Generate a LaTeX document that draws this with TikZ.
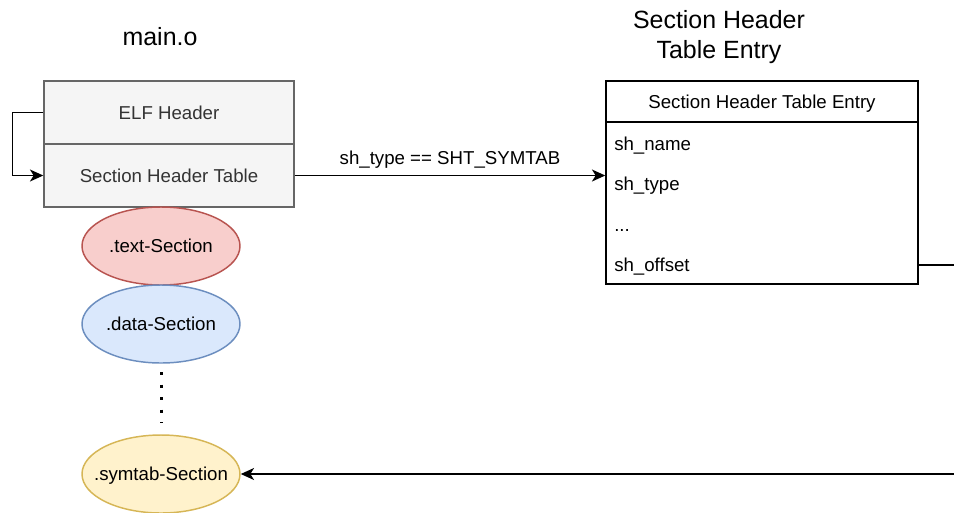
\documentclass[tikz,border=0pt]{standalone}
\usepackage{fontspec}
\setmainfont{Liberation Sans}
\usetikzlibrary{arrows.meta,shapes.geometric}

\definecolor{boxfill}{HTML}{F5F5F5}
\definecolor{boxline}{HTML}{666666}
\definecolor{boxtext}{HTML}{333333}
\definecolor{redfill}{HTML}{F8CECC}
\definecolor{redline}{HTML}{B85450}
\definecolor{bluefill}{HTML}{DAE8FC}
\definecolor{blueline}{HTML}{6C8EBF}
\definecolor{yellowfill}{HTML}{FFF2CC}
\definecolor{yellowline}{HTML}{D6B656}

\begin{document}
\begin{tikzpicture}[x=0.75pt,y=-0.75pt,
  every node/.style={font=\fontsize{14pt}{16.5pt}\selectfont},
  title/.style={font=\fontsize{18.7pt}{22.5pt}\selectfont, align=center},
  capbox/.style={text height=10pt, text depth=0pt},
  filebox/.style={draw=boxline, fill=boxfill, text=boxtext, line width=1.1pt,
    minimum width=187.5pt, minimum height=47.25pt, inner sep=0pt, capbox},
  entrybox/.style={draw=black, fill=white, line width=1.1pt,
    minimum width=234pt, inner sep=0pt, capbox},
  field/.style={anchor=base west, inner sep=0pt},
  sect/.style={ellipse, line width=1.1pt, minimum width=118.5pt,
    minimum height=58.5pt, inner sep=0pt},
  secttext/.style={inner sep=0pt, capbox},
  conn/.style={line width=1.1pt, -{Stealth[length=10pt,width=9pt,inset=2.8pt]}},
  plain/.style={line width=1.1pt},
  dots/.style={line width=2.25pt, dash pattern=on 2.25pt off 7.1pt}
]
\useasboundingbox (0,0) rectangle (954,512);

% titles
\node[title] (t1) at (160,37) {main.o};
\node[title] (t2) at (719,37) {Section Header\\Table Entry};

% object file layout
\node[filebox] (elf) at (169,112.5) {ELF Header};
\node[filebox] (sht) at (169,175.5) {Section Header Table};

\node[sect, draw=redline, fill=redfill,
      label={[secttext]center:.text-Section}] (text) at (161,246) {};
\node[sect, draw=blueline, fill=bluefill,
      label={[secttext]center:.data-Section}] (data) at (161,324) {};
\node[sect, draw=yellowline, fill=yellowfill,
      label={[secttext]center:.symtab-Section}] (symtab) at (161,474) {};

\draw[dots, shorten <=6.4pt, shorten >=8.6pt] (data.south) -- (symtab.north);

% section header table entry
\node[entrybox, minimum height=30.75pt] (ehead) at (762,101.5) {Section Header Table Entry};
\node[entrybox, minimum height=121.5pt] (ebody) at (762,203) {};
\node[field] (fname) at (614,150) {sh\_name};
\node[field] (ftype) at (614,190.5) {sh\_type};
\node[field] (fdots) at (614,231) {...};
\node[field] (foff)  at (614,271) {sh\_offset};
\coordinate (offrow) at (614,265);

% connectors
\draw[conn] (elf.west) -- ++(-31,0) |- (sht.west);
\draw[conn] (sht.east) -- node[above=5pt, inner sep=0pt] (lbl) {sh\_type == SHT\_SYMTAB} (sht.east -| ebody.west);

\coordinate (outA) at (954,265);
\coordinate (outB) at (954,474);
\draw[plain] (offrow -| ebody.east) -- (outA);
\draw[conn] (outB) -- (symtab.east);
\end{tikzpicture}
\end{document}
